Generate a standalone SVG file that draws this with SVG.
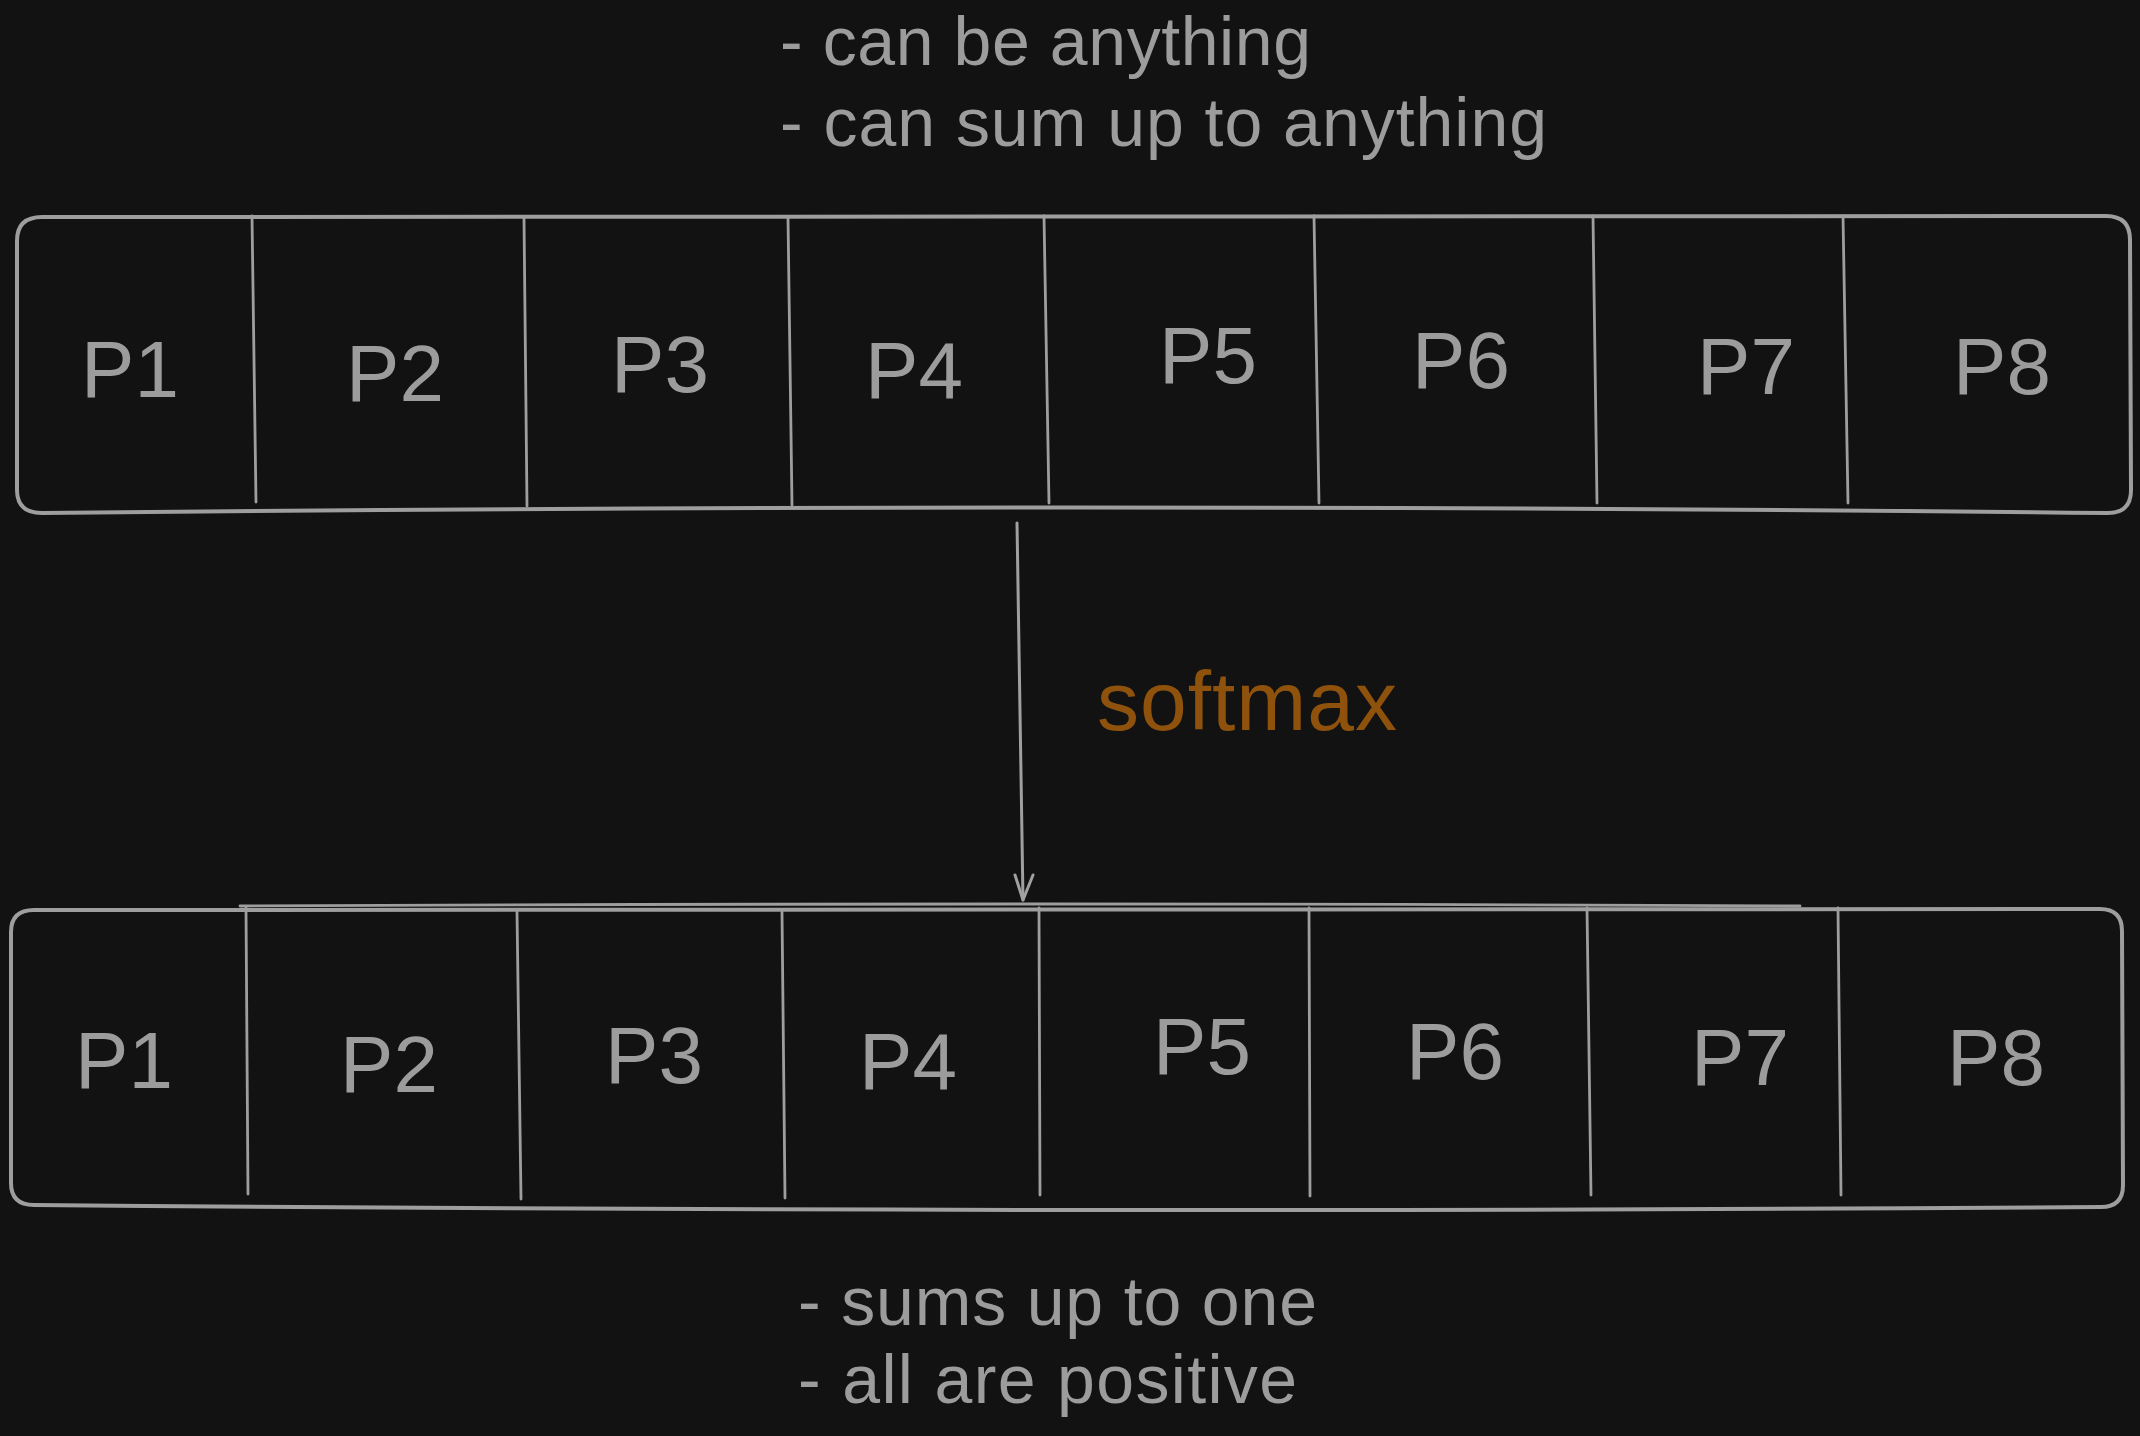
<svg xmlns="http://www.w3.org/2000/svg" width="2140" height="1436" viewBox="0 0 2140 1436">
  <defs>
    <style>
      .bg { fill: #121212; }
      .box { fill: none; stroke: #9e9e9e; stroke-width: 4; stroke-linecap: round; stroke-linejoin: round; }
      .div { fill: none; stroke: #9e9e9e; stroke-width: 2.8; stroke-linecap: round; }
      .lbl { fill: #9c9c9c; font-family: "Liberation Sans", Arial, sans-serif; font-size: 80px; text-anchor: middle; }
      .note { fill: #9c9c9c; font-family: "Liberation Sans", Arial, sans-serif; font-size: 68px; }
      .sm { fill: #8f520d; font-family: "Liberation Sans", Arial, sans-serif; font-size: 84px; }
      .conn { fill: none; stroke: #a0a0a0; stroke-width: 3; stroke-linecap: round; stroke-linejoin: round; }
    </style>
  </defs>
  <rect class="bg" x="0" y="0" width="2140" height="1436"/>

  <g id="note-top">
    <text class="note" x="780" y="65" textLength="531" lengthAdjust="spacing">- can be anything</text>
    <text class="note" x="780" y="146" textLength="767" lengthAdjust="spacing">- can sum up to anything</text>
  </g>

  <g id="logits-row">
    <path class="box" d="M 42,217 L 2106,216 Q 2130,216 2130,240 L 2131,490 Q 2131,513 2108,513 Q 1070,502 42,513 Q 17,513 17,490 L 17,241 Q 17,217 42,217 Z"/>
    <line class="div" x1="252" y1="216" x2="256" y2="502"/>
    <line class="div" x1="524" y1="218" x2="527" y2="506"/>
    <line class="div" x1="788" y1="218" x2="792" y2="505"/>
    <line class="div" x1="1044" y1="216" x2="1049" y2="503"/>
    <line class="div" x1="1314" y1="216" x2="1319" y2="503"/>
    <line class="div" x1="1593" y1="216" x2="1597" y2="503"/>
    <line class="div" x1="1843" y1="216" x2="1848" y2="503"/>
    <text class="lbl" x="130" y="397">P1</text>
    <text class="lbl" x="395" y="401">P2</text>
    <text class="lbl" x="660" y="392">P3</text>
    <text class="lbl" x="914" y="398">P4</text>
    <text class="lbl" x="1208" y="383">P5</text>
    <text class="lbl" x="1461" y="388">P6</text>
    <text class="lbl" x="1746" y="394">P7</text>
    <text class="lbl" x="2002" y="394">P8</text>
  </g>

  <g id="connectors">
    <path class="conn" d="M 1017,523 L 1023,900"/>
    <path class="conn" d="M 1015,875 L 1023,900 L 1033,875"/>
  </g>

  <g id="softmax-label">
    <text class="sm" x="1097" y="730" textLength="300" lengthAdjust="spacing">softmax</text>
  </g>

  <g id="probs-row">
    <path class="box" d="M 34,910 L 2100,909 Q 2122,909 2122,931 L 2123,1185 Q 2123,1207 2101,1207 Q 1070,1214 34,1205 Q 11,1205 11,1183 L 11,932 Q 11,910 34,910 Z"/>
    <path class="div" d="M 240,906 Q 1070,902 1800,906"/>
    <line class="div" x1="246" y1="908" x2="248" y2="1194"/>
    <line class="div" x1="517" y1="912" x2="521" y2="1199"/>
    <line class="div" x1="782" y1="912" x2="785" y2="1198"/>
    <line class="div" x1="1039" y1="908" x2="1040" y2="1195"/>
    <line class="div" x1="1309" y1="908" x2="1310" y2="1196"/>
    <line class="div" x1="1587" y1="908" x2="1591" y2="1195"/>
    <line class="div" x1="1838" y1="908" x2="1841" y2="1195"/>
    <text class="lbl" x="124" y="1088">P1</text>
    <text class="lbl" x="389" y="1092">P2</text>
    <text class="lbl" x="654" y="1083">P3</text>
    <text class="lbl" x="908" y="1089">P4</text>
    <text class="lbl" x="1202" y="1074">P5</text>
    <text class="lbl" x="1455" y="1079">P6</text>
    <text class="lbl" x="1740" y="1085">P7</text>
    <text class="lbl" x="1996" y="1085">P8</text>
  </g>

  <g id="note-bottom">
    <text class="note" x="798" y="1325" textLength="519" lengthAdjust="spacing">- sums up to one</text>
    <text class="note" x="798" y="1403" textLength="499" lengthAdjust="spacing">- all are positive</text>
  </g>
</svg>
